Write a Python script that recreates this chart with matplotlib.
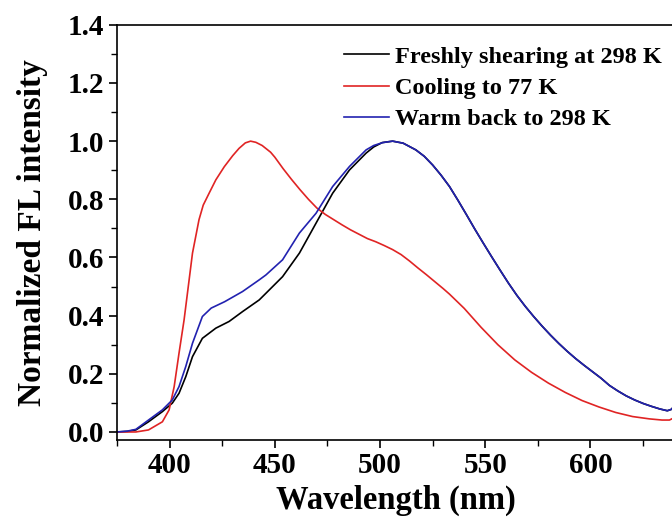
import matplotlib
matplotlib.use("Agg")
import matplotlib.pyplot as plt
from matplotlib.ticker import MultipleLocator, FormatStrFormatter

# ----------------------------
# data
# ----------------------------
fresh_wl = [375, 380, 384, 390, 396.6, 401.3, 404.5, 407.7, 410.9, 415.6, 422, 428.3,
            434.7, 442.6, 445.8, 453.7, 461.7, 469.6, 477.5, 485.5, 493.4, 497, 501, 506,
            511, 517, 521, 525, 529, 533, 537, 541, 545, 549, 553, 557, 561, 565, 569,
            573, 577, 581, 585, 589, 593, 597, 601, 605, 609, 613, 617, 621, 625, 629,
            633, 636.5, 638.5, 640]
fresh_int = [0.0, 0.002, 0.007, 0.035, 0.07, 0.099, 0.133, 0.19, 0.259, 0.322, 0.357, 0.38,
             0.414, 0.454, 0.477, 0.534, 0.615, 0.718, 0.821, 0.901, 0.959, 0.980, 0.995, 1.0,
             0.993, 0.970, 0.948, 0.918, 0.883, 0.844, 0.797, 0.748, 0.698, 0.650, 0.603,
             0.557, 0.512, 0.470, 0.432, 0.397, 0.364, 0.333, 0.304, 0.277, 0.252, 0.229,
             0.207, 0.185, 0.160, 0.141, 0.124, 0.110, 0.098, 0.088, 0.079, 0.073, 0.078,
             0.092]

cool_wl = [375, 384, 390, 396.6, 399.8, 402.2, 404.5, 406.9, 409.3, 410.9, 414, 416,
           418.8, 422, 426, 430, 433, 436, 438.5, 441, 444, 448, 450, 454, 458, 462, 466,
           470, 474, 478, 482, 486, 490, 494, 498, 502, 506, 510, 514, 518, 522, 526,
           530, 533, 540, 548, 556, 564, 572, 580, 588, 596, 604, 612, 620, 628, 634,
           637.5, 640]
cool_int = [0.0, 0.0, 0.007, 0.035, 0.076, 0.156, 0.271, 0.385, 0.523, 0.615, 0.73, 0.78,
            0.821, 0.867, 0.912, 0.950, 0.975, 0.994, 1.0, 0.996, 0.985, 0.962, 0.945, 0.905,
            0.868, 0.833, 0.800, 0.770, 0.748, 0.730, 0.712, 0.695, 0.680, 0.665, 0.654,
            0.641, 0.627, 0.610, 0.588, 0.564, 0.541, 0.517, 0.493, 0.474, 0.425, 0.360,
            0.300, 0.248, 0.205, 0.168, 0.136, 0.108, 0.086, 0.067, 0.053, 0.045, 0.041,
            0.041, 0.05]

warm_wl = [375, 380, 384, 390, 396.6, 401.3, 404.5, 407.7, 410.9, 415.6, 419.8, 426.2,
           434.7, 442.6, 445.8, 453.7, 461.7, 469.6, 477.5, 485.5, 493.4, 497, 501.3, 506,
           511, 517, 521, 525, 529, 533, 537, 541, 545, 549, 553, 557, 561, 565, 569,
           573, 577, 581, 585, 589, 593, 597, 601, 605, 609, 613, 617, 621, 625, 629,
           633, 636.5, 638.5, 640]
warm_int = [0.0, 0.003, 0.009, 0.041, 0.076, 0.11, 0.156, 0.225, 0.305, 0.397, 0.426, 0.448,
            0.483, 0.523, 0.540, 0.592, 0.684, 0.752, 0.844, 0.913, 0.970, 0.985, 0.995, 1.0,
            0.993, 0.970, 0.948, 0.918, 0.883, 0.844, 0.797, 0.748, 0.698, 0.650, 0.603,
            0.557, 0.512, 0.470, 0.432, 0.397, 0.364, 0.333, 0.304, 0.277, 0.252, 0.229,
            0.207, 0.185, 0.160, 0.141, 0.124, 0.110, 0.098, 0.088, 0.079, 0.073, 0.078,
            0.092]

labels = ["Freshly shearing at 298 K", "Cooling to 77 K", "Warm back to 298 K"]
colors = ["#000000", "#e02424", "#2222b0"]

# ----------------------------
# plot
# ----------------------------
plt.rcParams["font.family"] = ["Liberation Serif", "DejaVu Serif"]
plt.rcParams["font.weight"] = "bold"

fig = plt.figure(figsize=(6.72, 5.17), dpi=100)
ax = fig.add_axes([0.174, 0.149, 0.830, 0.803])

ax.plot(fresh_wl, fresh_int, color=colors[0], lw=1.2, label=labels[0])
ax.plot(cool_wl, cool_int, color=colors[1], lw=1.2, label=labels[1])
ax.plot(warm_wl, warm_int, color=colors[2], lw=1.2, label=labels[2])

ax.set_xlim(375, 640)
ax.set_ylim(-0.0275, 1.4)
ax.xaxis.set_major_locator(MultipleLocator(50))
ax.xaxis.set_minor_locator(MultipleLocator(25))
ax.yaxis.set_major_locator(MultipleLocator(0.2))
ax.yaxis.set_minor_locator(MultipleLocator(0.1))
ax.yaxis.set_major_formatter(FormatStrFormatter("%.1f"))

ax.tick_params(which="major", direction="out", length=6, width=1.2, labelsize=21, pad=3,
               top=False, right=False)
ax.tick_params(which="minor", direction="out", length=4, width=1.0, top=False, right=False)
for lab in ax.get_xticklabels() + ax.get_yticklabels():
    lab.set_fontweight("bold")
for s in ax.spines.values():
    s.set_linewidth(1.2)

ax.set_xlabel("Wavelength (nm)", fontsize=23.5, fontweight="bold", labelpad=4)
ax.set_ylabel("Normalized FL intensity", fontsize=24, fontweight="bold", labelpad=14)

leg = ax.legend(loc="upper right", bbox_to_anchor=(1.008, 0.99), frameon=False,
                prop={"size": 17.5, "weight": "bold"}, handlelength=1.85,
                handletextpad=0.25, labelspacing=0.38, borderaxespad=0.3)

fig.savefig("out.png", dpi=100)
